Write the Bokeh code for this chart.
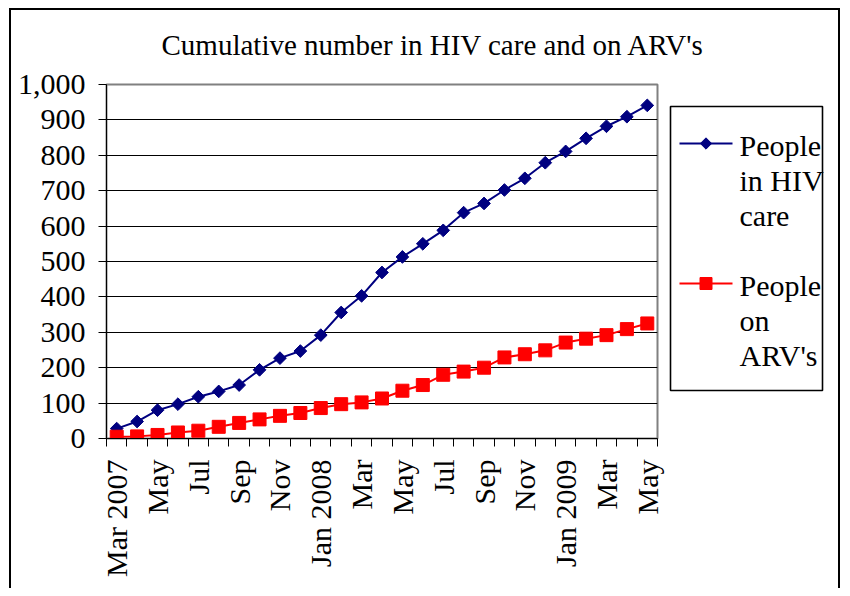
import math
from bokeh.plotting import figure
from bokeh.layouts import column, row
from bokeh.models import FixedTicker, NumeralTickFormatter, Title, Range1d, BoxAnnotation
from bokeh.core.properties import value
from bokeh.embed import file_html
from bokeh.resources import INLINE

months = ["Mar 2007", "Apr", "May", "Jun", "Jul", "Aug", "Sep", "Oct", "Nov", "Dec",
          "Jan 2008", "Feb", "Mar", "Apr", "May", "Jun", "Jul", "Aug", "Sep", "Oct",
          "Nov", "Dec", "Jan 2009", "Feb", "Mar", "Apr", "May"]
in_care = [28, 48, 80, 97, 118, 133, 151, 194, 227, 247, 292, 356, 403, 469, 513,
           550, 588, 638, 664, 702, 735, 779, 811, 848, 882, 909, 941]
on_arv = [5, 6, 10, 17, 22, 33, 44, 54, 64, 72, 86, 97, 102, 113, 135, 151, 180,
          189, 200, 229, 238, 249, 271, 282, 292, 309, 325]
y_ticks = [0, 100, 200, 300, 400, 500, 600, 700, 800, 900, 1000]
legend_lines_1 = ["People", "in HIV", "care"]
legend_lines_2 = ["People", "on", "ARV's"]
chart_title = "Cumulative number in HIV care and on ARV's"

FONT = "Liberation Serif"
FS = "30px"
NAVY = "#000080"
RED = "#FF0000"
LINE = "linear-gradient(#000,#000)"

TOP_H = 64          # height of title strip
MAIN_W = 665        # width of chart part
TOTAL_W, TOTAL_H = 842, 588
B_TOP, B_BOTTOM = 20, 150

# ---------------- title strip ----------------
pt = figure(width=TOTAL_W, height=TOP_H, output_backend="svg", toolbar_location=None,
            x_axis_type=None, y_axis_type=None, x_range=Range1d(0, 1), y_range=Range1d(0, 1),
            min_border_left=0, min_border_right=0, min_border_top=TOP_H - 4, min_border_bottom=0)
pt.grid.grid_line_color = None
pt.outline_line_color = None
pt.background_fill_alpha = 0
pt.border_fill_alpha = 0
pt.add_layout(Title(text=chart_title, align="left", offset=161, text_font=FONT,
                    text_font_size="29px", text_font_style="normal", text_color="black",
                    standoff=0), "above")

# ---------------- main chart ----------------
xs = list(range(len(months)))
p = figure(width=MAIN_W, height=TOTAL_H - TOP_H, output_backend="svg", toolbar_location=None,
           x_range=Range1d(-0.5, len(months) - 0.5), y_range=Range1d(0, 1000),
           min_border_left=106, min_border_right=8, min_border_top=B_TOP,
           min_border_bottom=B_BOTTOM)
p.background_fill_color = "white"
p.border_fill_alpha = 0
p.outline_line_color = "#808080"
p.outline_line_width = 2

p.xgrid.grid_line_color = None
p.ygrid.ticker = FixedTicker(ticks=y_ticks)
p.ygrid.grid_line_color = "black"
p.ygrid.grid_line_width = 1

p.yaxis.ticker = FixedTicker(ticks=y_ticks)
p.yaxis.formatter = NumeralTickFormatter(format="0,0")
p.yaxis.major_label_text_font = FONT
p.yaxis.major_label_text_font_size = FS
p.yaxis.major_label_text_color = "black"
p.yaxis.major_tick_out = 8
p.yaxis.major_tick_in = 0
p.yaxis.minor_tick_line_color = None
p.yaxis.axis_line_color = "black"
p.yaxis.major_tick_line_color = "black"
p.yaxis.major_label_standoff = 13

label_ticks = xs[::2]
p.xaxis.ticker = FixedTicker(ticks=label_ticks,
                             minor_ticks=[i - 0.5 for i in range(len(months) + 1)])
p.xaxis.major_label_overrides = {i: months[i] for i in label_ticks}
p.xaxis.major_label_orientation = math.pi / 2
p.xaxis.major_label_text_font = FONT
p.xaxis.major_label_text_font_size = FS
p.xaxis.major_label_text_color = "black"
p.xaxis.major_tick_out = 0
p.xaxis.major_tick_in = 0
p.xaxis.minor_tick_out = 8
p.xaxis.minor_tick_in = 0
p.xaxis.minor_tick_line_color = "black"
p.xaxis.axis_line_color = "black"
p.xaxis.major_label_standoff = 13

p.line(xs, in_care, line_color=NAVY, line_width=2)
p.scatter(xs, in_care, marker="square", size=9, angle=math.pi / 4,
          fill_color=NAVY, line_color=NAVY)
p.line(xs, on_arv, line_color=RED, line_width=2)
p.scatter(xs, on_arv, marker="square", size=13, fill_color=RED, line_color=RED)

# ---------------- legend panel (page pixel coordinates, y down) ----------------
frame_top = TOP_H + B_TOP
frame_bottom = TOTAL_H - B_BOTTOM
pl = figure(width=TOTAL_W - MAIN_W, height=TOTAL_H - TOP_H, output_backend="svg",
            toolbar_location=None, x_axis_type=None, y_axis_type=None,
            x_range=Range1d(MAIN_W, TOTAL_W), y_range=Range1d(frame_bottom, frame_top),
            min_border_left=0, min_border_right=0, min_border_top=B_TOP,
            min_border_bottom=B_BOTTOM)
pl.grid.grid_line_color = None
pl.outline_line_color = None
pl.background_fill_alpha = 0
pl.border_fill_alpha = 0

pl.add_layout(BoxAnnotation(left=670, right=822, top=106, bottom=390, fill_color="white",
                            fill_alpha=1, line_color="black", line_width=1.6,
                            line_alpha=1, level="underlay"))
sw_x = [679, 732]
mk_x = 705.5
txt_x = 739
row_gap = 35
for lines, y0, col, size, ang in [(legend_lines_1, 143, NAVY, 8, math.pi / 4),
                                  (legend_lines_2, 283, RED, 12, 0)]:
    pl.line(sw_x, [y0, y0], line_color=col, line_width=2)
    pl.scatter([mk_x], [y0], marker="square", size=size, angle=ang, fill_color=col, line_color=col)
    pl.text([txt_x] * len(lines), [y0 + 2 + i * row_gap for i in range(len(lines))], text=lines,
            text_font=value(FONT), text_font_size=FS, text_color="black",
            text_baseline="middle", text_align="left")

layout = column(pt, row(p, pl, spacing=0), spacing=0)
layout.styles = {
    "background-color": "white",
    "background-image": ", ".join([LINE] * 3),
    "background-size": "2px 700px, 831px 2px, 2px 700px",
    "background-position": "9px 8px, 9px 8px, 838px 8px",
    "background-repeat": "no-repeat",
}
open("out.html", "w").write(file_html(layout, INLINE))
